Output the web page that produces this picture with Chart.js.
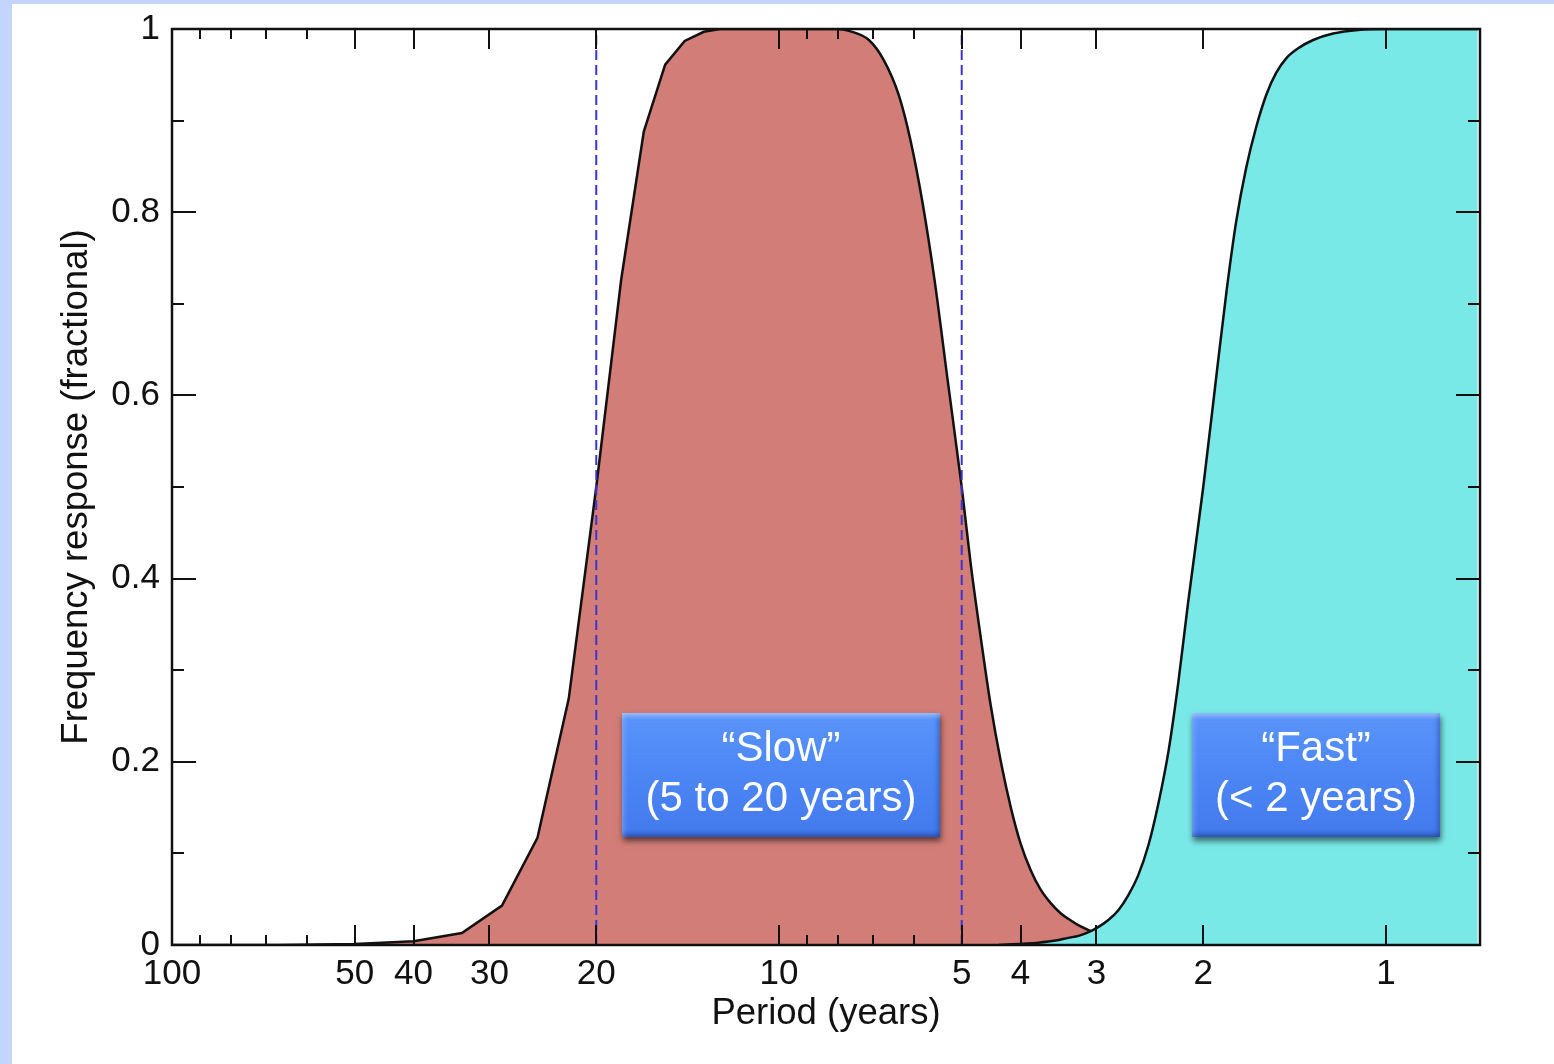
<!DOCTYPE html>
<html>
<head>
<meta charset="utf-8">
<script src="https://cdn.jsdelivr.net/npm/chart.js@4"></script>
<style>
  html, body { margin: 0; padding: 0; }
  body { width: 1554px; height: 1064px; background: #c4d5fb; position: relative; overflow: hidden;
         font-family: "Liberation Sans", Arial, sans-serif; }
  #sheet { position: absolute; left: 12px; top: 4px; right: 0; bottom: 0; background: #fff; }
  #plot { position: absolute; left: 0; top: 0; }
  .tag {
    position: absolute; box-sizing: border-box; padding-top: 9px;
    color: #fff; font-size: 42px; line-height: 50px; text-align: center; white-space: nowrap;
    background: linear-gradient(to bottom, #5a94fa 0%, #4d87f5 45%, #437aed 100%);
    box-shadow:
      inset 0 6px 5px -3px rgba(200, 222, 255, 0.6),
      inset 5px 0 5px -3px rgba(180, 205, 255, 0.4),
      inset -5px 0 5px -3px rgba(20, 40, 120, 0.4),
      inset 0 -6px 5px -3px rgba(20, 40, 120, 0.5),
      1px 4px 6px rgba(0, 0, 0, 0.55);
  }
</style>
</head>
<body>
<div id="sheet"></div>
<canvas id="plot" width="1554" height="1064"></canvas>
<div class="tag" style="left:622px; top:713px; width:318px; height:124px;">&ldquo;Slow&rdquo;<br>(5 to 20 years)</div>
<div class="tag" style="left:1192px; top:713px; width:248px; height:124px;">&ldquo;Fast&rdquo;<br>(&lt; 2 years)</div>

<script>
const FONT = '"Liberation Sans", Arial, sans-serif';
const INK = '#111';
const SLOW_FILL = '#d27d78';
const FAST_FILL = '#79e9e8';
const CUTOFF_COLOR = '#3a35d0';

// band-pass, long-period side (coarse samples, straight segments)
const SLOW_RISE_PERIOD = [100, 66.7, 50, 40, 33.3, 28.6, 25, 22.2, 20, 18.2, 16.7, 15.4, 14.3, 13.3, 12.5, 8.0];
const SLOW_RISE_RESP   = [0, 0, 0.001, 0.004, 0.013, 0.043, 0.117, 0.269, 0.5, 0.726, 0.888, 0.961, 0.987, 0.997, 1.0, 1.0];

// band-pass, short-period side (smooth)
const SLOW_FALL_PERIOD = [12.5, 8.0, 7.67, 7.11, 6.72, 6.35, 6.07, 5.80, 5.54, 5.27, 5.0, 4.83, 4.65, 4.48, 4.31, 4.15, 4.0, 3.85, 3.71, 3.57, 3.44, 3.31, 3.19, 3.07, 2.95, 2.74, 2.46];
const SLOW_FALL_RESP   = [1.0, 1.0, 0.998, 0.988, 0.966, 0.928, 0.878, 0.81, 0.725, 0.615, 0.5, 0.415, 0.335, 0.262, 0.2, 0.15, 0.111, 0.082, 0.061, 0.046, 0.035, 0.027, 0.0205, 0.0155, 0.0115, 0.005, 0.001];

// high-pass ("fast")
const FAST_PERIOD = [4.35, 3.74, 3.60, 3.46, 3.34, 3.21, 3.09, 2.98, 2.87, 2.76, 2.66, 2.56, 2.46, 2.37, 2.28, 2.20, 2.12, 2.0,
                     1.90, 1.83, 1.765, 1.70, 1.636, 1.575, 1.517, 1.46, 1.395, 1.318, 1.222, 1.112, 1.0, 0.706];
const FAST_RESP   = [0, 0.0025, 0.0037, 0.0055, 0.0078, 0.010, 0.014, 0.0195, 0.027, 0.038, 0.054, 0.076, 0.11, 0.155, 0.213, 0.285, 0.372, 0.5,
                     0.625, 0.715, 0.79, 0.848, 0.893, 0.928, 0.952, 0.968, 0.979, 0.988, 0.995, 0.999, 1.0, 1.0];

// cut-off periods of the slow band
const CUTOFF_PERIODS = [20, 5];

const X_LABELS      = [100, 50, 40, 30, 20, 10, 5, 4, 3, 2, 1];
const X_MAJOR_TICKS = [50, 40, 30, 20, 10, 5, 4, 3, 2, 1];
const X_MINOR_TICKS = [90, 80, 70, 60, 9, 8, 7, 6];
const Y_MAJOR_TICKS = [0.2, 0.4, 0.6, 0.8];
const Y_MINOR_TICKS = [0.1, 0.3, 0.5, 0.7, 0.9];

const pts = (xs, ys) => xs.map((p, i) => ({ x: p, y: ys[i] }));

// box around the plot with inward tick marks on all four sides
const frameTicks = {
  id: 'frameTicks',
  afterDatasetsDraw(chart) {
    const { ctx, chartArea: a, scales: { x, y } } = chart;
    ctx.save();
    ctx.strokeStyle = INK;
    ctx.lineWidth = 2;
    ctx.beginPath();
    const xt = (vals, len) => vals.forEach(v => {
      const px = Math.round(x.getPixelForValue(v));
      ctx.moveTo(px, a.bottom); ctx.lineTo(px, a.bottom - len);
      ctx.moveTo(px, a.top);    ctx.lineTo(px, a.top + len);
    });
    const yt = (vals, len) => vals.forEach(v => {
      const py = Math.round(y.getPixelForValue(v));
      ctx.moveTo(a.left, py);  ctx.lineTo(a.left + len, py);
      ctx.moveTo(a.right, py); ctx.lineTo(a.right - len, py);
    });
    xt(X_MAJOR_TICKS, 20);
    xt(X_MINOR_TICKS, 10);
    yt(Y_MAJOR_TICKS, 24);
    yt(Y_MINOR_TICKS, 12);
    ctx.stroke();
    ctx.lineWidth = 2.5;
    ctx.strokeRect(a.left, a.top, a.right - a.left, a.bottom - a.top);
    ctx.restore();
  }
};

const curve = (data, fill, smooth, order) => ({
  data, order,
  borderColor: INK, borderWidth: 2.5,
  backgroundColor: fill, fill: 'origin',
  pointRadius: 0, tension: 0,
  cubicInterpolationMode: smooth ? 'monotone' : 'default',
});

const datasets = [
  ...CUTOFF_PERIODS.map(p => ({
    data: [{ x: p, y: 0 }, { x: p, y: 1 }],
    order: 0,
    borderColor: CUTOFF_COLOR, borderWidth: 2, borderDash: [10, 5],
    pointRadius: 0, fill: false,
  })),
  curve(pts(FAST_PERIOD, FAST_RESP), FAST_FILL, true, 1),
  curve(pts(SLOW_FALL_PERIOD, SLOW_FALL_RESP), SLOW_FILL, true, 2),
  curve(pts(SLOW_RISE_PERIOD, SLOW_RISE_RESP), SLOW_FILL, false, 3),
];

new Chart(document.getElementById('plot'), {
  type: 'line',
  data: { datasets },
  options: {
    responsive: false,
    animation: false,
    devicePixelRatio: 1,
    layout: { padding: { top: 29, right: 74, left: 0, bottom: 0 } },
    plugins: { legend: { display: false }, tooltip: { enabled: false } },
    scales: {
      x: {
        type: 'logarithmic',
        reverse: true,
        min: 0.706,
        max: 100,
        grid: { display: false, drawTicks: false },
        border: { display: false },
        afterBuildTicks: s => { s.ticks = X_LABELS.map(v => ({ value: v })); },
        afterFit: s => { s.height = 119; },
        ticks: {
          autoSkip: false, maxRotation: 0, padding: 8,
          font: { family: FONT, size: 35 }, color: INK,
          callback: v => String(v),
        },
        title: {
          display: true, text: 'Period (years)',
          font: { family: FONT, size: 36.5 }, color: INK,
          padding: { top: 0, bottom: 28 },
        },
      },
      y: {
        type: 'linear',
        min: 0,
        max: 1,
        grid: { display: false, drawTicks: false },
        border: { display: false },
        afterFit: s => { s.width = 172; s.paddingTop = 0; s.paddingBottom = 0; },
        ticks: {
          stepSize: 0.2, padding: 12,
          font: { family: FONT, size: 35 }, color: INK,
          callback: v => String(Math.round(v * 10) / 10),
        },
        title: {
          display: true, text: 'Frequency response (fractional)',
          font: { family: FONT, size: 36.5 }, color: INK,
          padding: { top: 55, bottom: 0 },
        },
      },
    },
  },
  plugins: [frameTicks],
});
</script>
</body>
</html>
